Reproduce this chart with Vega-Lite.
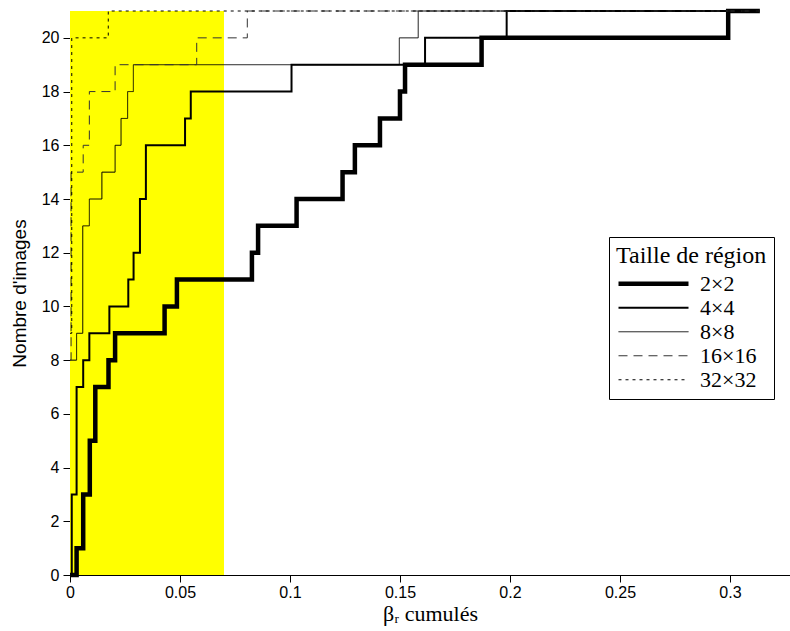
{
  "$schema": "https://vega.github.io/schema/vega-lite/v6.json",
  "width": 720,
  "height": 564,
  "autosize": "none",
  "padding": {"left": 70, "top": 11, "right": 0, "bottom": 56},
  "background": "white",
  "config": {
    "view": {"stroke": null},
    "axis": {"grid": false, "domainColor": "black", "tickColor": "black", "labelColor": "black", "labelFont": "Liberation Sans", "labelFontSize": 16, "titleColor": "black", "titleFontWeight": "normal", "tickSize": 7, "labelFlush": false}
  },
  "datasets": {
    "zone": [{"x": 0, "xfin": 0.07, "y": 0, "yfin": 21}],
    "courbes": [
      {"taille": "2×2", "x": 0, "y": 0},
      {"taille": "2×2", "x": 0.003, "y": 1},
      {"taille": "2×2", "x": 0.006, "y": 3},
      {"taille": "2×2", "x": 0.009, "y": 5},
      {"taille": "2×2", "x": 0.0115, "y": 7},
      {"taille": "2×2", "x": 0.0175, "y": 8},
      {"taille": "2×2", "x": 0.0205, "y": 9},
      {"taille": "2×2", "x": 0.043, "y": 10},
      {"taille": "2×2", "x": 0.0486, "y": 11},
      {"taille": "2×2", "x": 0.0827, "y": 12},
      {"taille": "2×2", "x": 0.0855, "y": 13},
      {"taille": "2×2", "x": 0.103, "y": 14},
      {"taille": "2×2", "x": 0.1239, "y": 15},
      {"taille": "2×2", "x": 0.1295, "y": 16},
      {"taille": "2×2", "x": 0.1409, "y": 17},
      {"taille": "2×2", "x": 0.15, "y": 18},
      {"taille": "2×2", "x": 0.1523, "y": 19},
      {"taille": "2×2", "x": 0.1871, "y": 20},
      {"taille": "2×2", "x": 0.2992, "y": 21},
      {"taille": "2×2", "x": 0.3136, "y": 21},
      {"taille": "4×4", "x": 0, "y": 0},
      {"taille": "4×4", "x": 0.0008, "y": 3},
      {"taille": "4×4", "x": 0.003, "y": 7},
      {"taille": "4×4", "x": 0.006, "y": 8},
      {"taille": "4×4", "x": 0.0088, "y": 9},
      {"taille": "4×4", "x": 0.0179, "y": 10},
      {"taille": "4×4", "x": 0.0265, "y": 11},
      {"taille": "4×4", "x": 0.0289, "y": 12},
      {"taille": "4×4", "x": 0.0318, "y": 14},
      {"taille": "4×4", "x": 0.0345, "y": 16},
      {"taille": "4×4", "x": 0.0523, "y": 17},
      {"taille": "4×4", "x": 0.0549, "y": 18},
      {"taille": "4×4", "x": 0.1007, "y": 19},
      {"taille": "4×4", "x": 0.1614, "y": 20},
      {"taille": "4×4", "x": 0.1985, "y": 21},
      {"taille": "4×4", "x": 0.3136, "y": 21},
      {"taille": "8×8", "x": 0, "y": 8},
      {"taille": "8×8", "x": 0.003, "y": 9},
      {"taille": "8×8", "x": 0.0058, "y": 13},
      {"taille": "8×8", "x": 0.0088, "y": 14},
      {"taille": "8×8", "x": 0.0145, "y": 15},
      {"taille": "8×8", "x": 0.0205, "y": 16},
      {"taille": "8×8", "x": 0.0232, "y": 17},
      {"taille": "8×8", "x": 0.0262, "y": 18},
      {"taille": "8×8", "x": 0.0288, "y": 19},
      {"taille": "8×8", "x": 0.1497, "y": 20},
      {"taille": "8×8", "x": 0.1583, "y": 21},
      {"taille": "8×8", "x": 0.3136, "y": 21},
      {"taille": "16×16", "x": 0, "y": 8},
      {"taille": "16×16", "x": 0.0005, "y": 15},
      {"taille": "16×16", "x": 0.006, "y": 16},
      {"taille": "16×16", "x": 0.0088, "y": 18},
      {"taille": "16×16", "x": 0.0205, "y": 19},
      {"taille": "16×16", "x": 0.0576, "y": 20},
      {"taille": "16×16", "x": 0.0806, "y": 21},
      {"taille": "16×16", "x": 0.3136, "y": 21},
      {"taille": "32×32", "x": 0, "y": 9},
      {"taille": "32×32", "x": 0.0008, "y": 20},
      {"taille": "32×32", "x": 0.0174, "y": 21},
      {"taille": "32×32", "x": 0.3136, "y": 21}
    ]
  },
  "layer": [
    {
      "data": {"name": "zone"},
      "mark": {"type": "rect", "color": "#FFFF00"},
      "encoding": {
        "x": {"field": "x", "type": "quantitative", "scale": {"domain": [0, 0.3273], "nice": false},
              "axis": {"values": [0, 0.05, 0.1, 0.15, 0.2, 0.25, 0.3], "format": "~g", "labelPadding": 2, "title": "βᵣ cumulés", "titleFont": "Liberation Serif", "titleFontSize": 22, "titlePadding": 3}},
        "x2": {"field": "xfin"},
        "y": {"field": "y", "type": "quantitative", "scale": {"domain": [0, 21], "nice": false},
              "axis": {"values": [0, 2, 4, 6, 8, 10, 12, 14, 16, 18, 20], "labelPadding": 4, "title": "Nombre d'images", "titleFont": "Liberation Sans", "titleFontSize": 19, "titlePadding": 12}},
        "y2": {"field": "yfin"}
      }
    },
    {
      "data": {"name": "courbes"},
      "mark": {"type": "line", "interpolate": "step-after"},
      "encoding": {
        "x": {"field": "x", "type": "quantitative", "axis": {"values": [0, 0.05, 0.1, 0.15, 0.2, 0.25, 0.3], "format": "~g", "labelPadding": 2, "title": "βᵣ cumulés", "titleFont": "Liberation Serif", "titleFontSize": 22, "titlePadding": 3}},
        "y": {"field": "y", "type": "quantitative", "axis": {"values": [0, 2, 4, 6, 8, 10, 12, 14, 16, 18, 20], "labelPadding": 4, "title": "Nombre d'images", "titleFont": "Liberation Sans", "titleFontSize": 19, "titlePadding": 12}},
        "color": {"field": "taille", "type": "nominal", "title": "Taille de région",
                  "scale": {"domain": ["2×2", "4×4", "8×8", "16×16", "32×32"], "range": ["black", "black", "black", "#333333", "black"]},
                  "legend": {"orient": "none", "legendX": 539, "legendY": 226, "symbolType": "stroke", "symbolSize": 4900, "strokeColor": "black", "fillColor": "white", "padding": 7, "titleFont": "Liberation Serif", "titleFontSize": 24, "titleFontWeight": "normal", "labelFont": "Liberation Serif", "labelFontSize": 22, "clipHeight": 23.5, "rowPadding": 0, "labelOffset": 9, "titlePadding": 4, "titleColor": "black", "labelColor": "black"}},
        "strokeWidth": {"field": "taille", "type": "nominal", "title": "Taille de région",
                  "scale": {"type": "ordinal", "domain": ["2×2", "4×4", "8×8", "16×16", "32×32"], "range": [4.5, 2, 1, 1, 1]},
                  "legend": {"orient": "none", "legendX": 539, "legendY": 226, "symbolType": "stroke", "symbolSize": 4900, "strokeColor": "black", "fillColor": "white", "padding": 7, "titleFont": "Liberation Serif", "titleFontSize": 24, "titleFontWeight": "normal", "labelFont": "Liberation Serif", "labelFontSize": 22, "clipHeight": 23.5, "rowPadding": 0, "labelOffset": 9, "titlePadding": 4, "titleColor": "black", "labelColor": "black"}},
        "strokeDash": {"field": "taille", "type": "nominal", "title": "Taille de région",
                  "scale": {"domain": ["2×2", "4×4", "8×8", "16×16", "32×32"], "range": [[1, 0], [1, 0], [1, 0], [9, 6], [3, 4]]},
                  "legend": {"orient": "none", "legendX": 539, "legendY": 226, "symbolType": "stroke", "symbolSize": 4900, "strokeColor": "black", "fillColor": "white", "padding": 7, "titleFont": "Liberation Serif", "titleFontSize": 24, "titleFontWeight": "normal", "labelFont": "Liberation Serif", "labelFontSize": 22, "clipHeight": 23.5, "rowPadding": 0, "labelOffset": 9, "titlePadding": 4, "titleColor": "black", "labelColor": "black"}}
      }
    }
  ]
}
